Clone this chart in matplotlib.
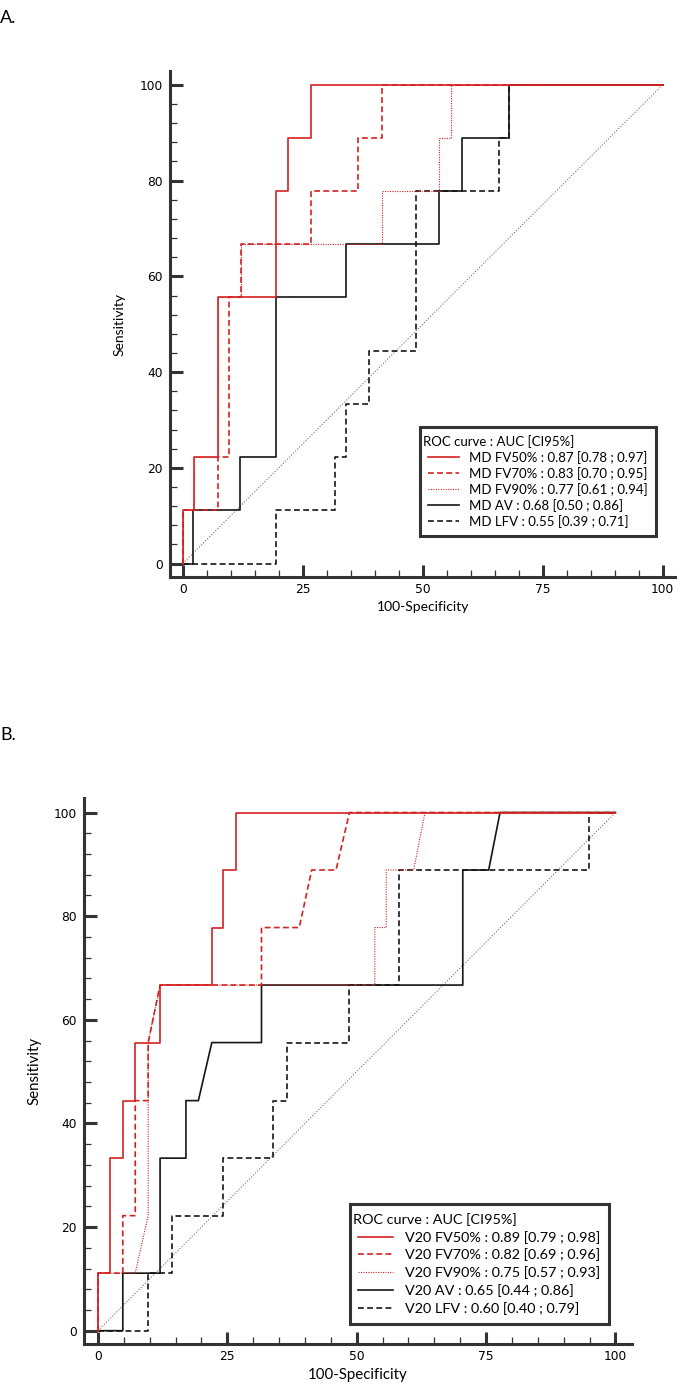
import matplotlib
matplotlib.use("Agg")
import matplotlib.pyplot as plt
from matplotlib.ticker import MultipleLocator

# ---- panel A (MD) ----
a_fv50_x = [0, 0, 2.4, 2.4, 7.3, 7.3, 19.5, 19.5, 22.0, 22.0, 26.8, 26.8, 100]
a_fv50_y = [0, 11.1, 11.1, 22.2, 22.2, 55.6, 55.6, 77.8, 77.8, 88.9, 88.9, 100, 100]
a_fv70_x = [0, 0, 7.3, 7.3, 9.7, 9.7, 12.1, 12.1, 26.8, 26.8, 36.5, 36.5, 41.5, 41.5, 100]
a_fv70_y = [0, 11.1, 11.1, 22.2, 22.2, 55.6, 55.6, 66.7, 66.7, 77.8, 77.8, 88.9, 88.9, 100, 100]
a_fv90_x = [0, 0, 2.4, 2.4, 7.3, 7.3, 12.1, 12.1, 41.5, 41.5, 53.5, 53.5, 55.9, 55.9, 100]
a_fv90_y = [0, 11.1, 11.1, 22.2, 22.2, 55.6, 55.6, 66.7, 66.7, 77.8, 77.8, 88.9, 88.9, 100, 100]
a_av_x = [0, 2.2, 2.2, 11.9, 11.9, 19.5, 19.5, 34.0, 34.0, 53.5, 53.5, 58.3, 58.3, 68.0, 68.0, 100]
a_av_y = [0, 0, 11.1, 11.1, 22.2, 22.2, 55.6, 55.6, 66.7, 66.7, 77.8, 77.8, 88.9, 88.9, 100, 100]
a_lfv_x = [0, 19.5, 19.5, 31.7, 31.7, 34.0, 34.0, 38.9, 38.9, 48.6, 48.6, 65.9, 65.9, 68.0, 68.0, 100]
a_lfv_y = [0, 0, 11.1, 11.1, 22.2, 22.2, 33.3, 33.3, 44.4, 44.4, 77.8, 77.8, 88.9, 88.9, 100, 100]
a_labels = ["MD FV50% : 0.87 [0.78 ; 0.97]",
            "MD FV70% : 0.83 [0.70 ; 0.95]",
            "MD FV90% : 0.77 [0.61 ; 0.94]",
            "MD AV : 0.68 [0.50 ; 0.86]",
            "MD LFV : 0.55 [0.39 ; 0.71]"]

# ---- panel B (V20) ----
b_fv50_x = [0, 0, 2.3, 2.3, 4.8, 4.8, 7.2, 7.2, 12.0, 12.0, 22.0, 22.0, 24.2, 24.2, 26.6, 26.6, 100]
b_fv50_y = [0, 11.1, 11.1, 33.3, 33.3, 44.4, 44.4, 55.6, 55.6, 66.7, 66.7, 77.8, 77.8, 88.9, 88.9, 100, 100]
b_fv70_x = [0, 0, 4.8, 4.8, 7.2, 7.2, 9.7, 9.7, 12.0, 31.6, 31.6, 38.9, 41.3, 46.0, 48.6, 100]
b_fv70_y = [0, 11.1, 11.1, 22.2, 22.2, 44.4, 44.4, 55.6, 66.7, 66.7, 77.8, 77.8, 88.9, 88.9, 100, 100]
b_fv90_x = [0, 0, 7.2, 9.7, 9.7, 12.0, 53.5, 53.5, 55.7, 55.7, 61.0, 63.2, 100]
b_fv90_y = [0, 11.1, 11.1, 22.2, 55.6, 66.7, 66.7, 77.8, 77.8, 88.9, 88.9, 100, 100]
b_av_x = [0, 4.8, 4.8, 12.0, 12.0, 17.0, 17.0, 19.4, 22.0, 31.6, 31.6, 70.5, 70.5, 75.5, 77.7, 100]
b_av_y = [0, 0, 11.1, 11.1, 33.3, 33.3, 44.4, 44.4, 55.6, 55.6, 66.7, 66.7, 88.9, 88.9, 100, 100]
b_lfv_x = [0, 9.7, 9.7, 14.4, 14.4, 24.2, 24.2, 33.8, 33.8, 36.5, 36.5, 48.6, 48.6, 58.2, 58.2, 94.9, 94.9, 100]
b_lfv_y = [0, 0, 11.1, 11.1, 22.2, 22.2, 33.3, 33.3, 44.4, 44.4, 55.6, 55.6, 66.7, 66.7, 88.9, 88.9, 100, 100]
b_labels = ["V20 FV50% : 0.89 [0.79 ; 0.98]",
            "V20 FV70% : 0.82 [0.69 ; 0.96]",
            "V20 FV90% : 0.75 [0.57 ; 0.93]",
            "V20 AV : 0.65 [0.44 ; 0.86]",
            "V20 LFV : 0.60 [0.40 ; 0.79]"]

diag = [0, 100]
legend_title = "ROC curve : AUC [CI95%]"

RED = "#d42222"
BLACK = "#151515"
AXC = "#333333"
TXT = "Lato"

fig = plt.figure(figsize=(6.77, 13.86), dpi=100)


def panel(rect, xlim, ylim, curves, labels, leg_anchor, leg_fs, leg_sp,
          ylab_x, lab_fs, hlen):
    ax = fig.add_axes(rect)
    ax.plot(diag, diag, color="#a0606c", lw=0.8, ls=(0, (1, 1.6)), zorder=1)
    styles = [dict(color=RED, lw=1.2, ls="-"),
              dict(color=RED, lw=1.2, ls=(0, (3.5, 2))),
              dict(color=RED, lw=0.8, ls=(0, (1, 1.2))),
              dict(color=BLACK, lw=1.2, ls="-"),
              dict(color=BLACK, lw=1.2, ls=(0, (3.5, 2)))]
    order = [3, 4, 2, 1, 0]
    handles = [None] * 5
    for i in order:
        x, y = curves[i]
        handles[i], = ax.plot(x, y, label=labels[i], zorder=3 + (4 - i),
                              **styles[i])
    ax.set_xlim(*xlim)
    ax.set_ylim(*ylim)
    for s in ["top", "right"]:
        ax.spines[s].set_visible(False)
    for s in ["left", "bottom"]:
        ax.spines[s].set_linewidth(2.2)
        ax.spines[s].set_color(AXC)
    ax.xaxis.set_major_locator(MultipleLocator(25))
    ax.xaxis.set_minor_locator(MultipleLocator(5))
    ax.yaxis.set_major_locator(MultipleLocator(20))
    ax.yaxis.set_minor_locator(MultipleLocator(4))
    ax.tick_params(which="major", direction="in", length=9, width=2.2,
                   color=AXC, labelsize=8.8, pad=5)
    ax.tick_params(which="minor", direction="in", length=5, width=0.9,
                   color=AXC)
    ax.tick_params(axis="x", which="major", pad=4)
    ax.set_xlabel("100-Specificity", fontsize=lab_fs, family=TXT, labelpad=4)
    ax.set_ylabel("Sensitivity", fontsize=lab_fs, family=TXT)
    ax.yaxis.set_label_coords(ylab_x, 0.5)
    leg = ax.legend(handles=handles, title=legend_title, loc="upper left",
                    bbox_to_anchor=leg_anchor, borderaxespad=0,
                    prop=dict(family=TXT, size=leg_fs),
                    title_fontproperties=dict(family=TXT, size=leg_fs),
                    alignment="left", fancybox=False, framealpha=1,
                    edgecolor=AXC, handlelength=hlen, handletextpad=0.8,
                    labelspacing=leg_sp, borderpad=0.6)
    leg.get_frame().set_linewidth(2.2)
    leg.get_title().set_x(-5.5)
    leg.set_zorder(10)
    return ax


panel([170 / 677, 1 - 577 / 1386, 506 / 677, 506 / 1386],
      (-2.65, 102.8), (-2.8, 102.9),
      [(a_fv50_x, a_fv50_y), (a_fv70_x, a_fv70_y), (a_fv90_x, a_fv90_y),
       (a_av_x, a_av_y), (a_lfv_x, a_lfv_y)],
      a_labels, (0.495, 0.297), 9.5, 0.24, -0.087, 10, 2.3)

panel([84 / 677, 1 - 1344 / 1386, 548 / 677, 546 / 1386],
      (-2.7, 103.2), (-2.57, 102.8),
      [(b_fv50_x, b_fv50_y), (b_fv70_x, b_fv70_y), (b_fv90_x, b_fv90_y),
       (b_av_x, b_av_y), (b_lfv_x, b_lfv_y)],
      b_labels, (0.485, 0.256), 10.4, 0.34, -0.078, 10.8, 2.4)

fig.text(0.0, 1 - 18 / 1386, "A.", fontsize=13, family=TXT, va="center")
fig.text(0.0, 1 - 735 / 1386, "B.", fontsize=13, family=TXT, va="center")

fig.savefig("out.png", dpi=100)
